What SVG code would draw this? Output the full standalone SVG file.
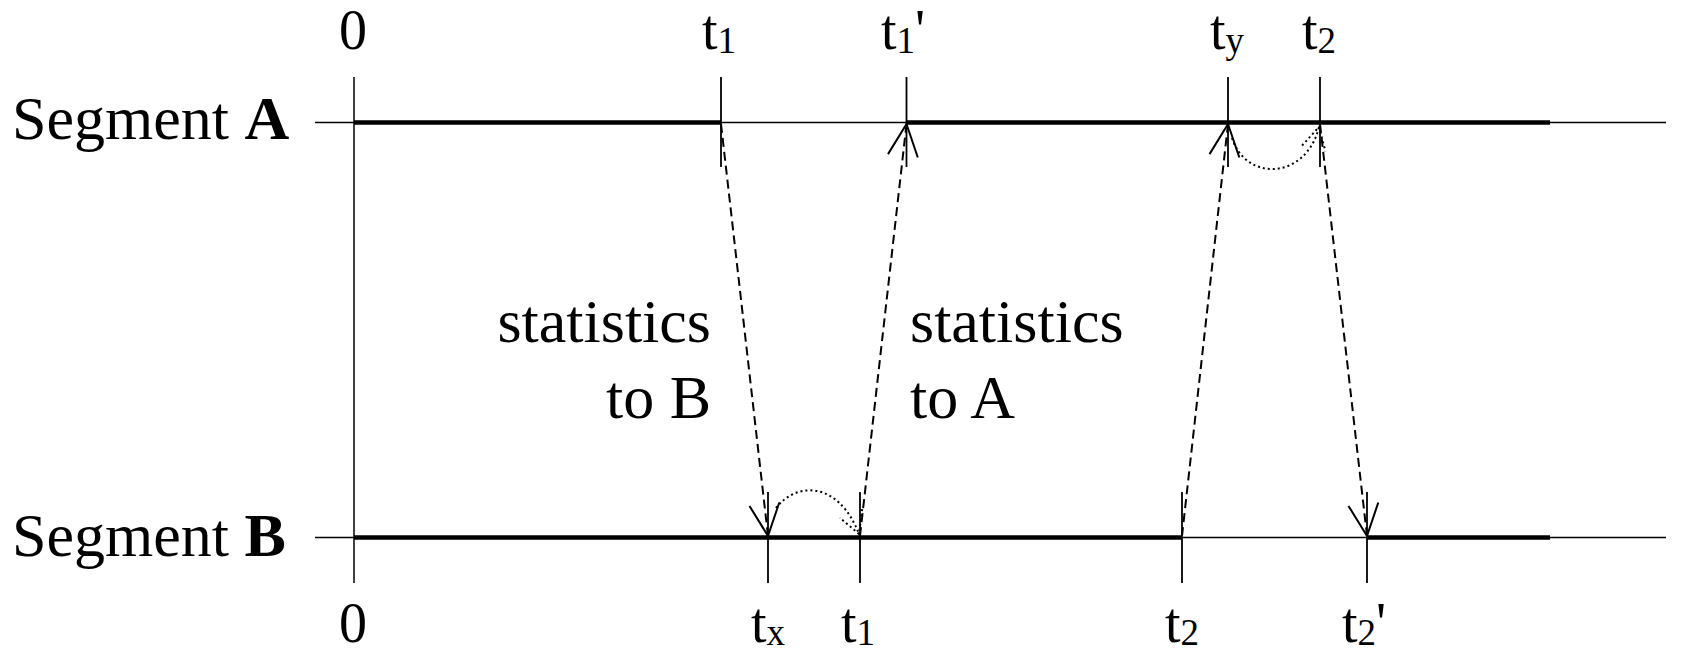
<svg xmlns="http://www.w3.org/2000/svg" width="1696" height="652" viewBox="0 0 1696 652">
<style>
text { font-family: "Liberation Serif", Tinos, "Times New Roman", Times, "DejaVu Serif", "Noto Serif", serif; fill: #000; }
.big { font-size: 62px; }
.lbl { font-size: 56px; text-anchor: middle; }
.sub { font-size: 37px; }
.thin { stroke: #000; stroke-width: 1.5; fill: none; }
.thick { stroke: #000; stroke-width: 4.5; fill: none; }
.tick { stroke: #000; stroke-width: 1.8; fill: none; }
.dash { stroke: #000; stroke-width: 2; stroke-dasharray: 9 5; fill: none; marker-end: url(#open); }
.dot { stroke: #000; stroke-width: 2; stroke-dasharray: 2 3; fill: none; marker-end: url(#dotted); }
</style>
<defs>
<marker id="open" markerUnits="userSpaceOnUse" viewBox="-40 -20 44 40" refX="0" refY="0" markerWidth="44" markerHeight="40" orient="auto" overflow="visible">
<path d="M-32,-15 L0,0 L-32,15" fill="none" stroke="#000" stroke-width="2"/>
</marker>
<marker id="dotted" markerUnits="userSpaceOnUse" viewBox="-30 -16 34 32" refX="0" refY="0" markerWidth="34" markerHeight="32" orient="auto" overflow="visible">
<path d="M-22,-12 L0,0 L-22,12" fill="none" stroke="#000" stroke-width="2" stroke-dasharray="2 3"/>
</marker>
</defs>

<g id="axis">
<line class="thin" x1="354" y1="77" x2="354" y2="583"/>
</g>

<g id="segment-A">
<line class="thin" x1="315" y1="122.5" x2="1666" y2="122.5"/>
<line class="thick" x1="354" y1="122.5" x2="721" y2="122.5"/>
<line class="thick" x1="906.5" y1="122.5" x2="1550" y2="122.5"/>
<text class="big" x="12" y="139" font-family="Liberation Serif, serif">Segment <tspan font-weight="bold">A</tspan></text>
</g>

<g id="segment-B">
<line class="thin" x1="315" y1="537.5" x2="1666" y2="537.5"/>
<line class="thick" x1="354" y1="537.5" x2="1182" y2="537.5"/>
<line class="thick" x1="1367" y1="537.5" x2="1550" y2="537.5"/>
<text class="big" x="12" y="556" font-family="Liberation Serif, serif">Segment <tspan font-weight="bold">B</tspan></text>
</g>

<g id="ticks-A">
<line class="tick" x1="721" y1="77" x2="721" y2="167"/>
<line class="tick" x1="906.5" y1="77" x2="906.5" y2="167"/>
<line class="tick" x1="1228" y1="77" x2="1228" y2="167"/>
<line class="tick" x1="1320" y1="77" x2="1320" y2="167"/>
</g>

<g id="ticks-B">
<line class="tick" x1="768" y1="492" x2="768" y2="583"/>
<line class="tick" x1="860" y1="492" x2="860" y2="583"/>
<line class="tick" x1="1182" y1="492" x2="1182" y2="583"/>
<line class="tick" x1="1367" y1="492" x2="1367" y2="583"/>
</g>

<g id="labels-top">
<text class="lbl" x="353" y="49">0</text>
<text class="lbl" x="719" y="49">t<tspan class="sub" dy="4">1</tspan></text>
<text class="lbl" x="903" y="49">t<tspan class="sub" dy="4">1</tspan><tspan dy="-4">'</tspan></text>
<text class="lbl" x="1227" y="49">t<tspan class="sub" dy="4">y</tspan></text>
<text class="lbl" x="1319" y="49">t<tspan class="sub" dy="4">2</tspan></text>
</g>

<g id="labels-bottom">
<text class="lbl" x="353" y="642">0</text>
<text class="lbl" x="768" y="642">t<tspan class="sub" dy="3">x</tspan></text>
<text class="lbl" x="858" y="642">t<tspan class="sub" dy="3">1</tspan></text>
<text class="lbl" x="1182" y="642">t<tspan class="sub" dy="3">2</tspan></text>
<text class="lbl" x="1364" y="642">t<tspan class="sub" dy="3">2</tspan><tspan dy="-3">'</tspan></text>
</g>

<g id="stat-to-B">
<text class="big" x="711" y="342" text-anchor="end">statistics</text>
<text class="big" x="711" y="418" text-anchor="end">to B</text>
</g>

<g id="stat-to-A">
<text class="big" x="910" y="342">statistics</text>
<text class="big" x="910" y="418">to A</text>
</g>

<g id="connectors">
<line class="dash" x1="721" y1="124" x2="768" y2="536"/>
<line class="dash" x1="860" y1="536" x2="906.5" y2="124"/>
<line class="dash" x1="1182" y1="536" x2="1228" y2="124"/>
<line class="dash" x1="1320" y1="124" x2="1367" y2="536"/>
<path class="dot" d="M776,508 C796,482 838,480 859,534"/>
<path class="dot" d="M1232,138 C1246,182 1306,180 1319,127"/>
</g>
</svg>
